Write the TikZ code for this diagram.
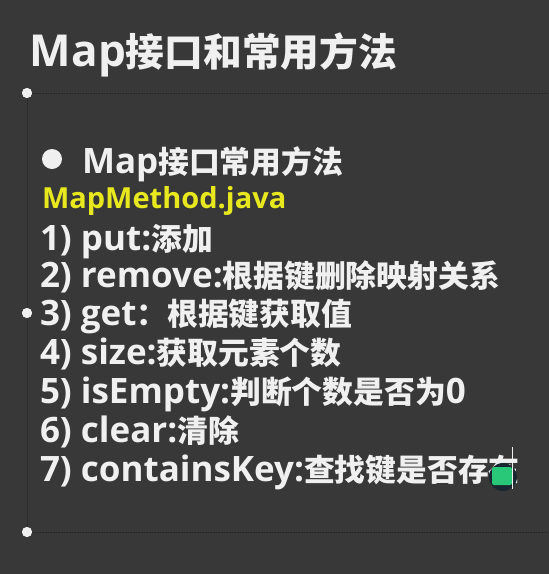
\documentclass[tikz,border=0pt]{standalone}
\usepackage{fontspec}
\setmainfont{Open Sans}
\newfontfamily\cjk{Noto Sans CJK SC}[Scale=0.88, BoldFont={Noto Sans CJK SC Black}]
\definecolor{board}{RGB}{56,56,56}
\definecolor{chalk}{RGB}{240,240,240}
\definecolor{javayellow}{RGB}{232,232,30}
\definecolor{imegreen}{RGB}{40,200,120}
\definecolor{imedark}{RGB}{25,40,48}

\begin{document}
\begin{tikzpicture}[x=1pt, y=-1pt,
  every node/.style={inner sep=0pt, outer sep=0pt, anchor=base west, text=chalk},
  item/.style={font=\fontsize{35}{35}\selectfont\bfseries},
  handle/.style={circle, fill=chalk, minimum size=10pt, anchor=center},
  guide/.style={densely dotted, black!85, line width=0.6pt}]
\fill[board] (0,0) rectangle (549,574);
\useasboundingbox (0,0) rectangle (549,574);

\node[font=\fontsize{44}{44}\selectfont\bfseries] (title) at (30,66) {Map{\cjk 接口和常用方法}};

\coordinate (r1) at (549,93);
\coordinate (r3) at (549,532);
\node[handle] (h1) at (27,93) {};
\node[handle] (h2) at (27,313) {};
\node[handle] (h3) at (27,532) {};
\draw[guide] (h1) -- (r1);
\draw[guide] (h1) -- (h3);
\draw[guide] (h3) -- (r3);
\node[handle] at (h1) {};
\node[handle] at (h2) {};
\node[handle] at (h3) {};

\node[circle, fill=chalk, minimum size=20pt, anchor=center] (dot) at (52,159) {};
\node[item] (head) at (82,173) {Map{\cjk 接口常用方法}};
\node[font=\fontsize{29}{29}\selectfont\bfseries, text=javayellow] (file) at (42,208) {MapMethod.java};

\node[item] (m1) at (40,250) {1) put:{\cjk 添加}};
\node[item] (m2) at (40,287) {2) remove:{\cjk 根据键删除映射关系}};
\node[item] (m3) at (40,325) {3) get{\cjk ：根据键获取值}};
\node[item] (m4) at (40,364) {4) size:{\cjk 获取元素个数}};
\node[item] (m5) at (40,403) {5) isEmpty:{\cjk 判断个数是否为}0};
\node[item] (m6) at (40,442) {6) clear:{\cjk 清除}};
\node[item] (m7) at (40,481) {7) containsKey:{\cjk 查找键是否存在}};

\node[circle, fill=imedark, minimum size=28pt, anchor=center] (ime) at (503,477) {};
\node[fill=imegreen, rounded corners=2pt, minimum width=20pt, minimum height=18pt, anchor=center] (imebox) at (502,476) {};
\coordinate (ct) at (512,447);
\coordinate (cb) at (512,489);
\draw[chalk, line width=0.8pt] (ct) -- (cb);
\end{tikzpicture}
\end{document}
